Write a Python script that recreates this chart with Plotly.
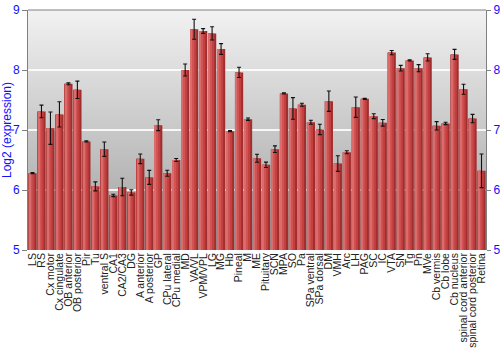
import base64
import plotly.graph_objects as go

categories = ["LS", "RS", "Cx motor", "Cx cingulate", "OB anterior", "OB posterior", "Pir", "Tu",
              "ventral S", "CA1", "CA2/CA3", "DG", "A anterior", "A posterior", "GP", "CPu lateral",
              "CPu medial", "MD", "VA/VL", "VPM/VPL", "LG", "MG", "Hb", "Pineal", "M", "ME",
              "Pituitary", "SCN", "MPA", "SO", "Pa", "SPa ventral", "SPa dorsal", "DM", "VMH", "Arc",
              "LH", "PAG", "SC", "IC", "VTA", "SN", "Tg", "Pn", "MVe", "Cb vermis", "Cb lobe",
              "Cb nucleus", "spinal cord anterior", "spinal cord posterior", "Retina"]

values = [6.28, 7.31, 7.03, 7.26, 7.77, 7.67, 6.81, 6.06,
          6.68, 5.91, 6.05, 5.96, 6.52, 6.21, 7.08, 6.28,
          6.50, 8.00, 8.68, 8.65, 8.61, 8.35, 6.98, 7.96, 7.18, 6.53,
          6.42, 6.68, 7.61, 7.36, 7.42, 7.13, 7.01, 7.48, 6.44, 6.63,
          7.38, 7.52, 7.23, 7.12, 8.29, 8.03, 8.16, 8.03, 8.21, 7.07, 7.11,
          8.26, 7.68, 7.19, 6.32]

errors = [0.01, 0.105, 0.27, 0.21, 0.015, 0.145, 0.01, 0.075,
          0.12, 0.02, 0.145, 0.045, 0.08, 0.117, 0.09, 0.05,
          0.025, 0.10, 0.167, 0.04, 0.11, 0.09, 0.01, 0.085, 0.02, 0.067,
          0.045, 0.055, 0.01, 0.18, 0.025, 0.033, 0.087, 0.17, 0.13, 0.025,
          0.17, 0.01, 0.04, 0.055, 0.036, 0.047, 0.01, 0.06, 0.06, 0.07, 0.02,
          0.083, 0.083, 0.07, 0.28]

y_ticks = [5, 6, 7, 8, 9]

base = 5
heights = [v - base for v in values]

fig = go.Figure()

layers = [
    (0.92, -0.46, "#a02e2e"),
    (0.68, -0.44, "#c44040"),
    (0.38, -0.38, "#d05454"),
    (0.12, -0.36, "#da6c6c"),
]
for w, off, col in layers:
    fig.add_trace(go.Bar(
        x=categories, y=heights, base=base, width=w, offset=off,
        marker=dict(color=col, line=dict(width=0)),
        showlegend=False, hoverinfo="skip",
    ))

fig.add_trace(go.Bar(
    x=categories, y=heights, base=base, width=0.92, offset=-0.46, yaxis="y2",
    marker=dict(color="rgba(0,0,0,0)", line=dict(width=0)),
    error_y=dict(type="data", array=errors, visible=True, color="#111111",
                 thickness=1.1, width=2),
    showlegend=False,
))

svg = ('<svg xmlns="http://www.w3.org/2000/svg" width="10" height="100" '
       'preserveAspectRatio="none"><defs><linearGradient id="g" x1="0" y1="0" x2="0" y2="1">'
       '<stop offset="0" stop-color="#f2f2f2"/><stop offset="1" stop-color="#9e9e9e"/>'
       '</linearGradient></defs><rect width="10" height="100" fill="url(#g)"/></svg>')
src = "data:image/svg+xml;base64," + base64.b64encode(svg.encode()).decode()

blue = "#1010ff"
fig.update_layout(
    width=500, height=350,
    margin=dict(l=28, r=14, t=10, b=100),
    paper_bgcolor="white",
    plot_bgcolor="rgba(0,0,0,0)",
    barmode="overlay",
    bargap=0.08,
    font=dict(family="Liberation Sans, Arial, sans-serif", size=10.5, color="#222222"),
    images=[dict(source=src, xref="paper", yref="paper", x=0, y=1, sizex=1, sizey=1,
                 xanchor="left", yanchor="top", sizing="stretch", layer="below")],
    xaxis=dict(
        type="category", tickangle=-90, showgrid=False, ticks="",
        tickmode="array", tickvals=categories, ticktext=categories,
        tickfont=dict(size=10.5, color="#222222"), showline=False, automargin=False,
        range=[-0.5, len(categories) - 0.5],
    ),
    yaxis=dict(
        range=[5, 9], tickvals=y_ticks, ticks="outside", ticklen=5, tickcolor="#808080",
        showline=True, linecolor="#808080", linewidth=1, automargin=False,
        showgrid=True, gridcolor="rgba(255,255,255,0.85)", gridwidth=2,
        tickfont=dict(size=12, color=blue), zeroline=False,
        title=dict(text="Log2 (expression)", font=dict(size=12, color=blue), standoff=2),
    ),
    yaxis2=dict(
        range=[5, 9], tickvals=y_ticks, ticks="outside", ticklen=4, tickcolor="#808080",
        showline=True, linecolor="#808080", linewidth=1, overlaying="y", side="right",
        showgrid=False, zeroline=False, tickfont=dict(size=12, color=blue), automargin=False,
    ),
    shapes=[dict(type="line", xref="paper", yref="paper", x0=0, x1=1, y0=1, y1=1,
                 line=dict(color="#808080", width=1))],
)

fig.write_html("out.html")
